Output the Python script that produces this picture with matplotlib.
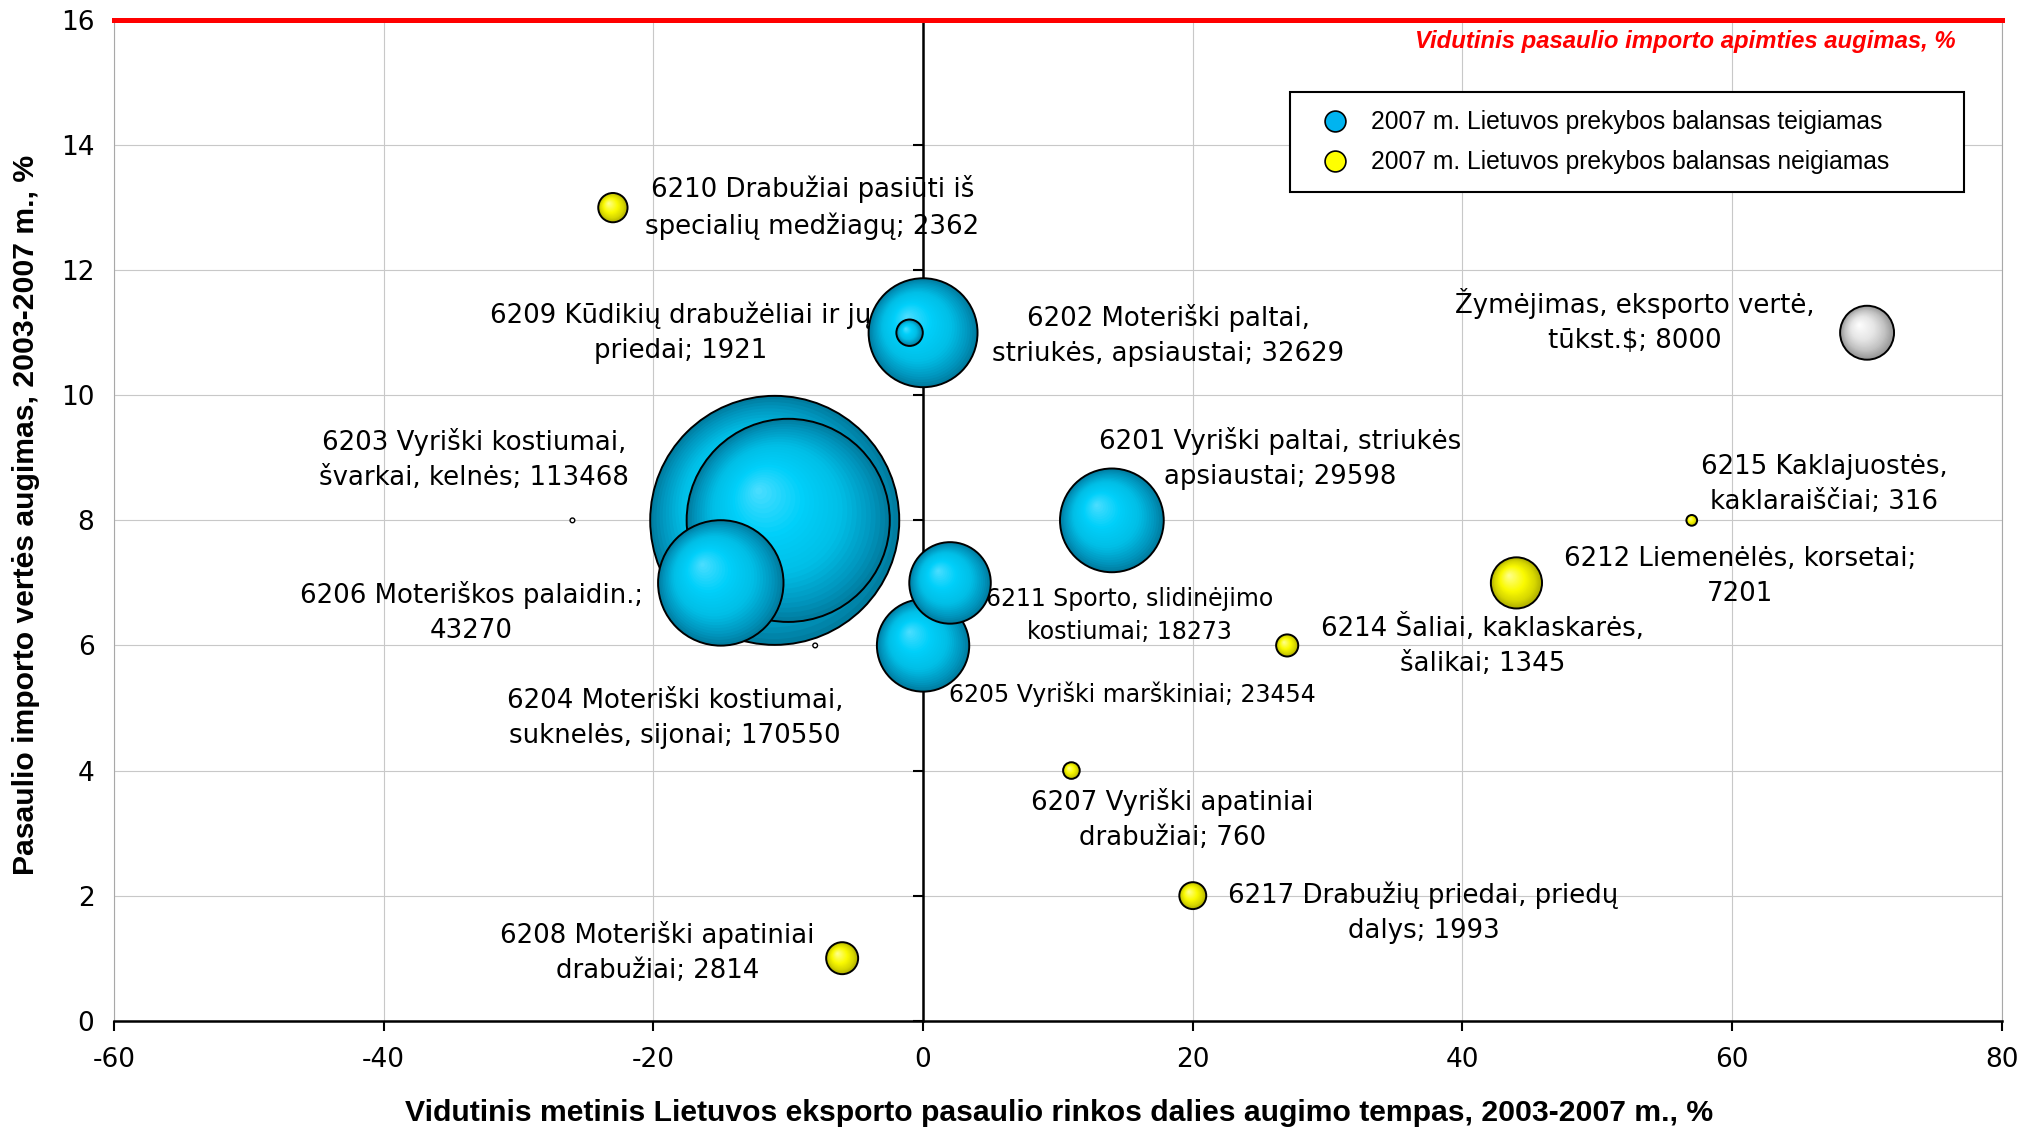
import numpy as np
import matplotlib.pyplot as plt
from matplotlib.transforms import ScaledTranslation
from matplotlib.lines import Line2D

plt.rcParams['axes.unicode_minus'] = False

# 2007 m. prekybos balansas teigiamas (melyni burbulai)
pos_codes = ['6201', '6202', '6203', '6204', '6205', '6206', '6209', '6211']
pos_x = [14, 0, -10, -11, 0, -15, -1, 2]
pos_y = [8, 11, 8, 8, 6, 7, 11, 7]
pos_v = [29598, 32629, 113468, 170550, 23454, 43270, 1921, 18273]

# 2007 m. prekybos balansas neigiamas (geltoni burbulai)
neg_codes = ['6207', '6208', '6210', '6212', '6214', '6215', '6217']
neg_x = [11, -6, -23, 44, 27, 57, 20]
neg_y = [4, 1, 13, 7, 6, 8, 2]
neg_v = [760, 2814, 2362, 7201, 1345, 316, 1993]

# zymejimo burbulas
ref_x = [70]
ref_y = [11]
ref_v = [8000]

# maziukai taskai
dot_x = [-26, -8]
dot_y = [8, 6]
dot_v = [60, 60]

world_growth = 16

x_ticks = list(range(-60, 81, 20))
y_ticks = list(range(0, 17, 2))

labels = [
    ("6210 Drabužiai pasiūti iš\nspecialių medžiagų; 2362", -8.2, 13.0, 'big'),
    ("6209 Kūdikių drabužėliai ir jų\npriedai; 1921", -18.0, 11.0, 'big'),
    ("6202 Moteriški paltai,\nstriukės, apsiaustai; 32629", 18.2, 10.96, 'big'),
    ("6203 Vyriški kostiumai,\nšvarkai, kelnės; 113468", -33.3, 8.97, 'big'),
    ("6201 Vyriški paltai, striukės\napsiaustai; 29598", 26.5, 8.99, 'big'),
    ("6215 Kaklajuostės,\nkaklaraiščiai; 316", 66.8, 8.57, 'big'),
    ("6212 Liemenėlės, korsetai;\n7201", 60.6, 7.1, 'big'),
    ("6206 Moteriškos palaidin.;\n43270", -33.5, 6.53, 'big'),
    ("6211 Sporto, slidinėjimo\nkostiumai; 18273", 15.3, 6.48, 'small'),
    ("6214 Šaliai, kaklaskarės,\nšalikai; 1345", 41.5, 6.0, 'big'),
    ("6205 Vyriški marškiniai; 23454", 15.5, 5.22, 'small'),
    ("6204 Moteriški kostiumai,\nsuknelės, sijonai; 170550", -18.4, 4.83, 'big'),
    ("6207 Vyriški apatiniai\ndrabužiai; 760", 18.5, 3.21, 'big'),
    ("6217 Drabužių priedai, priedų\ndalys; 1993", 37.1, 1.73, 'big'),
    ("6208 Moteriški apatiniai\ndrabužiai; 2814", -19.7, 1.09, 'big'),
    ("Žymėjimas, eksporto vertė,\ntūkst.$; 8000", 52.8, 11.19, 'big'),
]

blue = [(0, (0, 125, 160)), (0.12, (0, 150, 190)), (0.35, (0, 190, 230)),
        (0.65, (0, 208, 250)), (1, (80, 222, 255))]
yellow = [(0, (175, 175, 0)), (0.2, (215, 215, 0)), (0.5, (250, 250, 0)),
          (1, (255, 255, 150))]
grey = [(0, (150, 150, 150)), (0.25, (195, 195, 195)), (0.55, (230, 230, 230)),
        (1, (255, 255, 255))]


def shade(stops, t):
    ts = [s[0] for s in stops]
    cols = np.array([s[1] for s in stops]) / 255.0
    return tuple(float(np.interp(t, ts, cols[:, i])) for i in range(3))


fig = plt.figure(figsize=(20.38, 11.3), dpi=100)
ax = fig.add_axes([0.0559, 0.0967, 0.9264, 0.8856])
ax.set_xlim(-60, 80)
ax.set_ylim(0, 16)
ax.set_xticks(x_ticks)
ax.set_yticks(y_ticks)
ax.grid(True, color='#C8C8C8', linewidth=0.8)
ax.set_axisbelow(True)
for side in ['left', 'right']:
    ax.spines[side].set_color('#A8A8A8')
    ax.spines[side].set_linewidth(0.8)
ax.spines['top'].set_visible(False)
ax.spines['bottom'].set_linewidth(1.8)
ax.tick_params(axis='x', direction='out', length=7, width=1.5, pad=12, labelsize=19)
ax.tick_params(axis='y', length=0, pad=14, labelsize=19)

# vertikali asis per x = 0
sec = ax.secondary_yaxis(60 / 140)
sec.set_yticks(y_ticks)
sec.set_yticklabels([])
sec.tick_params(direction='out', length=7, width=1.5)
sec.spines['left'].set_linewidth(1.8)
sec.set_zorder(1.5)

# burbulai
S_MAX = 32150.0
VMAX = max(pos_v)
NL = 28

bubbles = []
for xs, ys, vs, stops in [(pos_x, pos_y, pos_v, blue), (neg_x, neg_y, neg_v, yellow),
                          (ref_x, ref_y, ref_v, grey)]:
    for x, y, v in zip(xs, ys, vs):
        bubbles.append((v, x, y, stops))
bubbles.sort(key=lambda b: -b[0])

for rank, (v, x, y, stops) in enumerate(bubbles):
    s = S_MAX * v / VMAX
    r_pt = np.sqrt(s) / 2
    z = 3 + rank
    ax.scatter([x], [y], s=s, color=shade(stops, 0), edgecolor='none', zorder=z)
    for k in range(1, NL):
        t = k / NL
        off = ScaledTranslation(-0.3 * t * r_pt / 72, 0.3 * t * r_pt / 72, fig.dpi_scale_trans)
        ax.scatter([x], [y], s=s * (1 - t) ** 2, color=shade(stops, t), edgecolor='none',
                   zorder=z + t * 0.5, transform=ax.transData + off)
    ax.scatter([x], [y], s=s, facecolor='none', edgecolor='black', linewidth=1.4, zorder=z + 0.9)

ax.scatter(dot_x, dot_y, s=[S_MAX * v / VMAX for v in dot_v], facecolor='white',
           edgecolor='black', linewidth=1.0, zorder=30)

# uzrasai
for txt, lx, ly, kind in labels:
    if kind == 'big':
        ax.text(lx, ly, txt, ha='center', va='center', multialignment='center',
                fontsize=18.7, family='DejaVu Sans', linespacing=1.45, zorder=2.5)
    else:
        ax.text(lx, ly, txt, ha='center', va='center', multialignment='center',
                fontsize=17, family='DejaVu Sans', linespacing=1.5, zorder=2.5)

ax.axhline(world_growth, color='#FF0000', linewidth=3.6, zorder=40, clip_on=False)
ax.text(76.6, 15.65, "Vidutinis pasaulio importo apimties augimas, %", ha='right', va='center',
        color='#FF0000', fontsize=17.2, fontweight='bold', fontstyle='italic',
        family='Liberation Sans', zorder=41)

ax.set_xlabel("Vidutinis metinis Lietuvos eksporto pasaulio rinkos dalies augimo tempas, 2003-2007 m., %",
              fontsize=21.7, fontweight='bold', family='Liberation Sans', va='center')
ax.xaxis.set_label_coords(0.5008, -0.0922)
ax.set_ylabel("Pasaulio importo vertės augimas, 2003-2007 m., %",
              fontsize=21.7, fontweight='bold', family='Liberation Sans', va='center', ha='center')
ax.yaxis.set_label_coords(-0.0466, 0.505)

handles = [
    Line2D([], [], linestyle='none', marker='o', markersize=15, markerfacecolor='#00B4F0',
           markeredgecolor='black', markeredgewidth=1.2),
    Line2D([], [], linestyle='none', marker='o', markersize=15, markerfacecolor='#FFFF00',
           markeredgecolor='black', markeredgewidth=1.2),
]
leg = fig.legend(handles, ["2007 m. Lietuvos prekybos balansas teigiamas",
                           "2007 m. Lietuvos prekybos balansas neigiamas"],
                 loc='upper left', mode='expand', bbox_to_anchor=(0.633, 0.8336, 0.3307, 0.085),
                 bbox_transform=fig.transFigure, borderaxespad=0, borderpad=0.74,
                 labelspacing=0.65, handlelength=2.2, handletextpad=0.35,
                 prop={'family': 'Liberation Sans', 'size': 17.7}, fancybox=False,
                 framealpha=1, edgecolor='black')
leg.get_frame().set_linewidth(1.5)
leg.set_zorder(50)

fig.savefig('out.png', dpi=100)
